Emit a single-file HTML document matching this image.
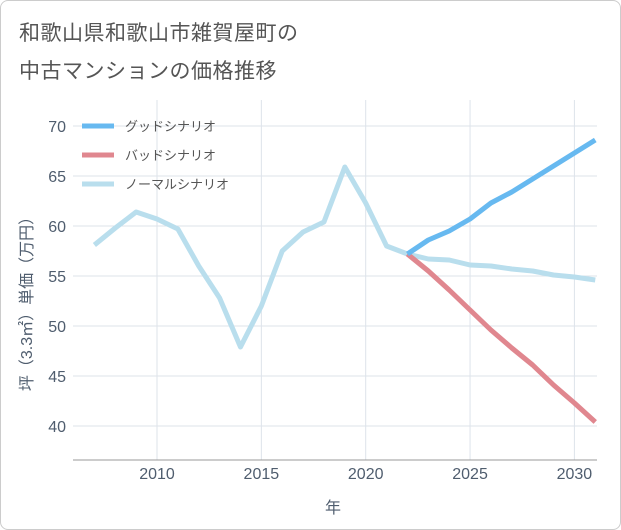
<!DOCTYPE html>
<html><head><meta charset="utf-8"><style>
body{margin:0;background:#fff;font-family:"Liberation Sans","Noto Sans CJK JP",sans-serif;}
#wrap{position:relative;width:619px;height:528px;border:1px solid #ccc;border-radius:8px;background:#fff;overflow:hidden}
.t{position:absolute;left:18px;color:#555;font-size:21px;letter-spacing:0.5px}
</style></head><body>
<div id="wrap">
<div class="t" style="top:16px">和歌山県和歌山市雑賀屋町の</div>
<div class="t" style="top:54px">中古マンションの価格推移</div>
<svg id="c" width="621" height="530" style="position:absolute;left:-1px;top:-1px"></svg>
</div>
<script>
const years=[2007,2008,2009,2010,2011,2012,2013,2014,2015,2016,2017,2018,2019,2020,2021,2022,2023,2024,2025,2026,2027,2028,2029,2030,2031];
const normal=[58.1,59.8,61.4,60.7,59.7,56,52.8,47.9,52,57.5,59.4,60.4,65.9,62.3,58,57.2,56.7,56.6,56.1,56.0,55.7,55.5,55.1,54.9,54.6];
const goodYears=[2022,2023,2024,2025,2026,2027,2028,2029,2030,2031];
const good=[57.2,58.6,59.5,60.7,62.3,63.4,64.7,66.0,67.3,68.6];
const bad=[57.2,55.5,53.6,51.6,49.6,47.8,46.1,44.1,42.3,40.4];
const yTicks=[40,45,50,55,60,65,70];
const xTicks=[2010,2015,2020,2025,2030];
const NS="http://www.w3.org/2000/svg",svg=document.getElementById('c');
const L=73,R=597,T=100,B=460;
const TC='#4f5d6e';
const x=v=>157+(v-2010)*20.87, y=v=>126+(70-v)*10;
function el(t,a,p){const e=document.createElementNS(NS,t);for(const k in a)e.setAttribute(k,a[k]);(p||svg).appendChild(e);return e;}
for(const v of yTicks){const g=el('line',{x1:L,x2:R,y1:y(v),y2:y(v),stroke:'#dde3ea'});

const t=el('text',{x:66,y:y(v)+6,'text-anchor':'end','font-size':16,fill:TC});t.textContent=v;
}
for(const v of xTicks){const g=el('line',{x1:x(v),x2:x(v),y1:T,y2:B,stroke:'#dde3ea'});

const t=el('text',{x:x(v),y:479,'text-anchor':'middle','font-size':16,fill:TC});t.textContent=v;
}
let ax=el('line',{x1:L,x2:R,y1:B,y2:B,stroke:'#999'});
let xt=el('text',{x:333,y:513,'text-anchor':'middle','font-size':16,fill:TC});xt.textContent='年';

let yt=el('text',{x:0,y:0,'text-anchor':'middle','font-size':16,fill:TC,transform:'translate(32,300) rotate(-90)'});yt.textContent='坪（3.3㎡）単価（万円）';

const clip=el('clipPath',{id:'cl'});el('rect',{x:L,y:T,width:R-L,height:B-T},clip);
function line(xs,vs,col,name){const p=el('polyline',{points:xs.map((a,i)=>x(a)+','+y(vs[i])).join(' '),fill:'none',stroke:col,'stroke-width':5,'stroke-linejoin':'round','clip-path':'url(#cl)'});
}
line(years,normal,'#b9deed','normal-line');
line(goodYears,bad,'#e0878f','bad-line');
line(goodYears,good,'#67b9f0','good-line');
const leg=[['グッドシナリオ','#67b9f0'],['バッドシナリオ','#e0878f'],['ノーマルシナリオ','#b9deed']];
leg.forEach((d,i)=>{const yy=126+i*29;
const g=el('g',{});
el('line',{x1:82,x2:114,y1:yy,y2:yy,stroke:d[1],'stroke-width':5},g);
const t=el('text',{x:125,y:yy+5,'font-size':13,fill:'#555'},g);t.textContent=d[0];});
</script></body></html>
